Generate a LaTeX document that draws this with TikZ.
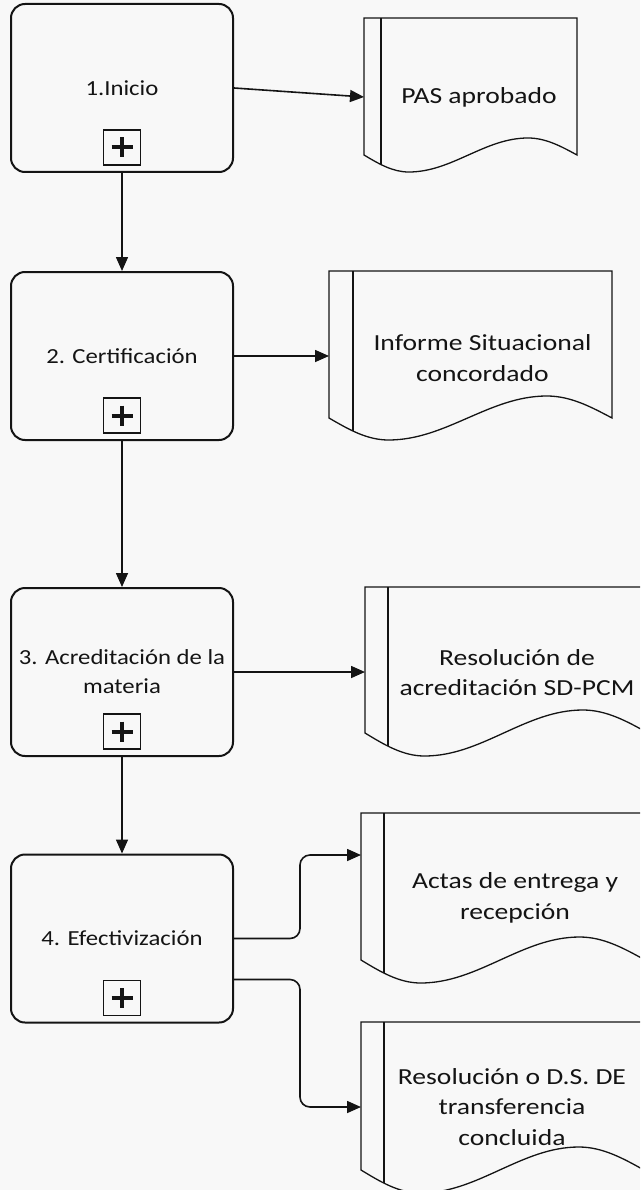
\documentclass[tikz,border=0pt]{standalone}
\usepackage{fontspec}
\setmainfont{Carlito}
\newfontfamily\boxfont{Carlito}[FakeStretch=1.15]
\newfontfamily\docfont{Carlito}[FakeStretch=1.2]
\usetikzlibrary{arrows.meta,calc}
\definecolor{bg}{RGB}{248,248,248}
\definecolor{ink}{RGB}{20,20,20}
\tikzset{
 procbox/.style={draw=ink, line width=2pt, rounded corners=14pt, minimum width=222pt, minimum height=168pt, inner sep=0pt, align=center, font={\boxfont\fontsize{21.5}{29}\selectfont}, text=ink},
 plusbox/.style={draw=ink, line width=1.6pt, minimum width=37pt, minimum height=35pt, inner sep=0pt},
 plusbar/.style={draw=ink, line width=4pt},
 doctext/.style={align=center, inner sep=0pt, font={\docfont\fontsize{23}{30.5}\selectfont}, text=ink},
 docline/.style={draw=ink, line width=1.3pt},
 conn/.style={draw=ink, line width=1.6pt, -{Triangle[length=14pt,width=12pt]}},
}
\newcommand\docshape[6]{%
 \draw[docline] (#1,#2) -- ({#1+#3},#2) -- ({#1+#3},#4) sin ({#1+0.77*#3},{#4-#5}) cos ({#1+0.49*#3},#4) sin ({#1+0.21*#3},{#4+#5}) cos (#1,#4) -- cycle;
 \begin{scope}
 \clip (#1,#2) -- ({#1+#3},#2) -- ({#1+#3},#4) sin ({#1+0.77*#3},{#4-#5}) cos ({#1+0.49*#3},#4) sin ({#1+0.21*#3},{#4+#5}) cos (#1,#4) -- cycle;
 \draw[docline] ({#1+#6},#2) -- ({#1+#6},{#4+#5+5});
 \end{scope}}
\newcommand\plusmark[1]{%
 \draw[plusbar] ($(#1)+(-10.5,0)$) -- ($(#1)+(10.5,0)$);
 \draw[plusbar] ($(#1)+(0,-10)$) -- ($(#1)+(0,10)$);}
\begin{document}
\begin{tikzpicture}[x=1pt,y=-1pt]
\useasboundingbox (0,0) rectangle (640,1190);
\clip (0,0) rectangle (640,1190);
\fill[bg] (0,0) rectangle (640,1190);

% process boxes
\node[procbox] (b1) at (122,88) {1.Inicio};
\node[procbox] (b2) at (122,356) {2. Certificación};
\node[procbox] (b3) at (122,672) {3. Acreditación de la\\materia};
\node[procbox] (b4) at (122,938.5) {4. Efectivización};

\foreach \i in {1,2,3,4}{
 \node[plusbox] (p\i) at ($(b\i.south)+(0,-25.5)$) {};
 \plusmark{p\i}
}

% documents
\docshape{364}{18}{213}{155}{17}{17}
\docshape{329}{271}{283}{418}{22}{24}
\docshape{365}{587}{283}{733}{23}{23}
\docshape{361}{813}{284}{960}{23}{23}
\docshape{361}{1022}{283}{1170}{23}{23}

\node[doctext] (d1) at (479,97) {PAS aprobado};
\node[doctext] (d2) at (482.5,358) {Informe Situacional\\concordado};
\node[doctext] (d3) at (517,672.5) {Resolución de\\acreditación SD-PCM};
\node[doctext] (d4) at (515,898) {Actas de entrega y\\recepción};
\node[doctext] (d5) at (512,1107) {Resolución o D.S. DE\\transferencia\\concluida};

\coordinate (d1in) at (364,97);
\coordinate (d2in) at (329,356);
\coordinate (d3in) at (365,672);
\coordinate (d4in) at (361,855);
\coordinate (d5in) at (361,1107);

% connectors
\draw[conn] (b1.south) -- (b2.north);
\draw[conn] (b2.south) -- (b3.north);
\draw[conn] (b3.south) -- (b4.north);
\draw[conn] (b1.east) -- (d1in);
\draw[conn] (b2.east) -- (d2in);
\draw[conn] (b3.east) -- (d3in);
\draw[conn, rounded corners=10pt] (b4.east) -| (300,855) -- (d4in);
\draw[conn, rounded corners=10pt] ($(b4.east)+(0,41)$) -| (300,1107) -- (d5in);
\end{tikzpicture}
\end{document}
